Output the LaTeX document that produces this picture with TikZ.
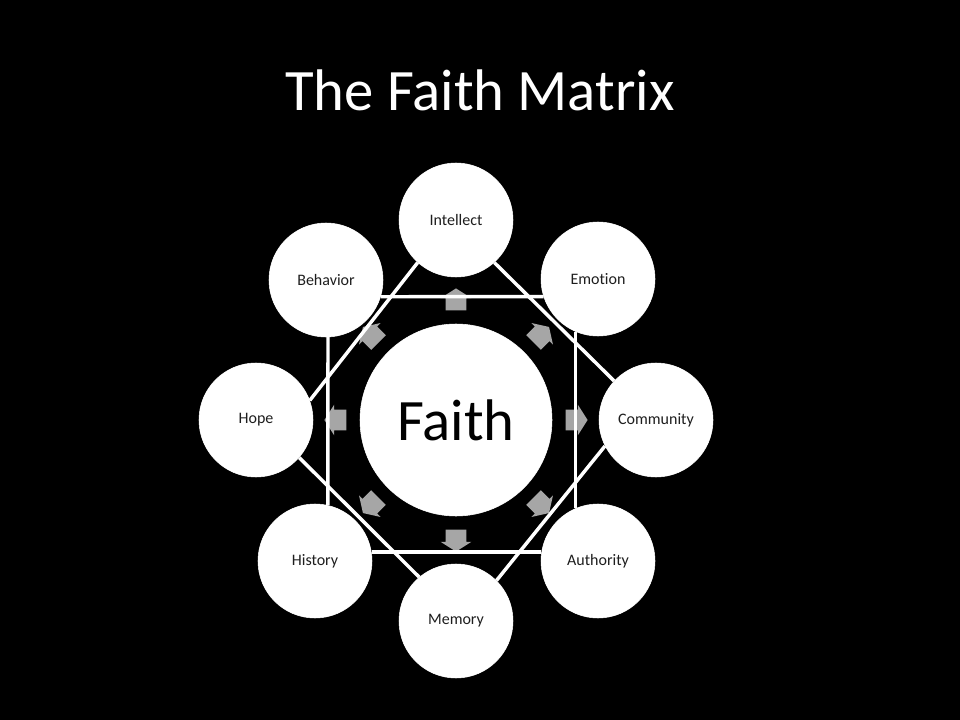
\documentclass[tikz,border=0pt]{standalone}
\usepackage{fontspec}
\setmainfont[Ligatures={NoCommon,NoContextual}, RawFeature={-dlig;-rlig}]{Carlito}
\usetikzlibrary{shapes.arrows,calc}
\definecolor{arrowgray}{RGB}{166,166,166}
\definecolor{labelgray}{RGB}{30,30,30}

\begin{document}
\begin{tikzpicture}[x=0.75pt, y=-0.75pt,
	facet/.style={circle, fill=white, draw=white, inner sep=0pt, minimum size=85.5pt, text=labelgray, font=\fontsize{12}{14}\selectfont},
	core/.style={circle, fill=white, draw=white, inner sep=0pt, minimum size=144pt, font=\fontsize{44}{50}\selectfont},
	push/.style={single arrow, fill=arrowgray, inner xsep=0pt, inner ysep=7.5pt, minimum height=16.5pt, single arrow head extend=3.75pt, single arrow tip angle=115},
	link/.style={white, line width=2.6pt}]
	\fill[black] (0,0) rectangle (960,720);
	\useasboundingbox (0,0) rectangle (960,720);
	\node[white, font=\fontsize{44}{50}\selectfont] (title) at (480,90) {The Faith Matrix};
	\node[core] (faith) at (456,420) {Faith};
	\foreach \name/\lab/\x/\y in {int/Intellect/456/220, emo/Emot\kern0pt ion/598/279, com/Community/656/420, aut/Authority/598/561, mem/Memory/456/621, his/History/315/561, hop/Hope/256/420, beh/Behavior/326/280}
		\node[facet] (\name) at (\x,\y) {\lab};
	\foreach \a in {0,45,...,315}
		\node[push, rotate=\a] (push\a) at ($(faith)+(\a:88pt)$) {};
	% square
	\draw[link] (beh.-17) -- (emo.-162);
	\draw[link] (beh.-88) -- (his.77);
	\draw[link] (emo.-113) -- (aut.113);
	\draw[link] (his.9) -- (aut.171);
	% diamond
	\draw[link] (int.-132) -- (hop.20);
	\draw[link] (int.-48) -- (com.137);
	\draw[link] (com.-153) -- (mem.45);
	\draw[link] (hop.-41) -- (mem.130);
\end{tikzpicture}
\end{document}
